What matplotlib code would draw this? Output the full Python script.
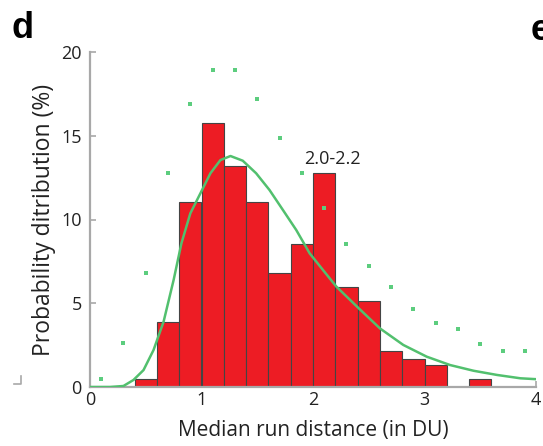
import numpy as np
import matplotlib
matplotlib.use('Agg')
import matplotlib.pyplot as plt
from matplotlib.lines import Line2D

# histogram bins (DU) and heights (%)
bin_left = [0.4, 0.6, 0.8, 1.0, 1.2, 1.4, 1.6, 1.8, 2.0, 2.2, 2.4, 2.6, 2.8, 3.0, 3.2, 3.4]
bin_height = [0.45, 3.9, 11.07, 15.75, 13.2, 11.07, 6.8, 8.55, 12.8, 5.95, 5.13, 2.15, 1.7, 1.3, 0.0, 0.47]
bin_width = 0.2

# green dots
dot_x = [0.1, 0.3, 0.5, 0.7, 0.9, 1.1, 1.3, 1.5, 1.7, 1.9,
         2.1, 2.3, 2.5, 2.7, 2.9, 3.1, 3.3, 3.5, 3.7, 3.9]
dot_y = [0.5, 2.6, 6.8, 12.8, 16.9, 18.95, 18.95, 17.2, 14.87, 12.8,
         10.67, 8.55, 7.22, 5.97, 4.66, 3.84, 3.44, 2.58, 2.12, 2.12]

# fitted curve
fit_x = [0.0, 0.18, 0.30, 0.39, 0.48, 0.57, 0.66, 0.75, 0.82, 0.90, 0.99, 1.08, 1.17,
         1.26, 1.37, 1.49, 1.61, 1.73, 1.85, 1.97, 2.09, 2.21, 2.41, 2.60, 2.81,
         3.02, 3.23, 3.44, 3.65, 3.86, 4.02]
fit_y = [0.0, 0.0, 0.06, 0.42, 1.01, 2.21, 3.90, 6.39, 8.58, 10.37, 11.56, 12.76, 13.55,
         13.79, 13.51, 12.76, 11.76, 10.57, 9.37, 7.98, 6.98, 5.99, 4.70, 3.50, 2.51,
         1.81, 1.31, 0.97, 0.72, 0.52, 0.46]

RED = '#ed1c24'
GREEN = '#52c06e'
DOT = '#5ccd7e'
GREY = '#a8a8a8'
INK = '#222222'
plt.rcParams['font.family'] = ['Open Sans', 'DejaVu Sans']

fig = plt.figure(figsize=(5.43, 4.46), dpi=100)
ax = fig.add_axes([90/543, 1-387/446, 446/543, 335/446])

ax.bar(bin_left, bin_height, width=bin_width, align='edge',
       color=RED, edgecolor='#444444', linewidth=0.8, zorder=2)
ax.plot(fit_x, fit_y, color=GREEN, lw=1.8, zorder=3,
        solid_joinstyle='round', solid_capstyle='round')
ax.plot(dot_x, dot_y, 's', color=DOT, ms=3.4, mew=0, zorder=4)

ax.text(2.17, 13.6, '2.0-2.2', ha='center', va='center', fontsize=13, color=INK)

ax.set_xlim(0, 4)
ax.set_ylim(0, 20)
ax.set_xticks([0, 1, 2, 3, 4])
ax.set_yticks([0, 5, 10, 15, 20])
for s in ['top', 'right']:
    ax.spines[s].set_visible(False)
for s in ['left', 'bottom']:
    ax.spines[s].set_color(GREY)
    ax.spines[s].set_linewidth(1.6)
ax.tick_params(direction='in', length=4, width=1.2, color=GREY,
               labelsize=13, labelcolor=INK)
ax.tick_params(axis='x', pad=3)
ax.tick_params(axis='y', pad=6)
ax.set_xlabel('Median run distance (in DU)', fontsize=15, color=INK, labelpad=8)
ax.set_ylabel('Probability ditribution (%)', fontsize=16.5, color=INK, labelpad=4)

# panel letters
fig.text(23/543, 1-28/446, 'd', fontsize=26, fontweight='bold',
         family='Liberation Sans', ha='center', va='center')
fig.text(531/543, 1-30/446, 'e', fontsize=26, fontweight='bold',
         family='Liberation Sans', ha='left', va='center')
# leftover corner of the neighbouring panel
fig.add_artist(Line2D([14/543, 21/543, 21/543], [1-384/446, 1-384/446, 1-376/446],
                      color=GREY, lw=1.2))

fig.savefig('out.png', dpi=100)
